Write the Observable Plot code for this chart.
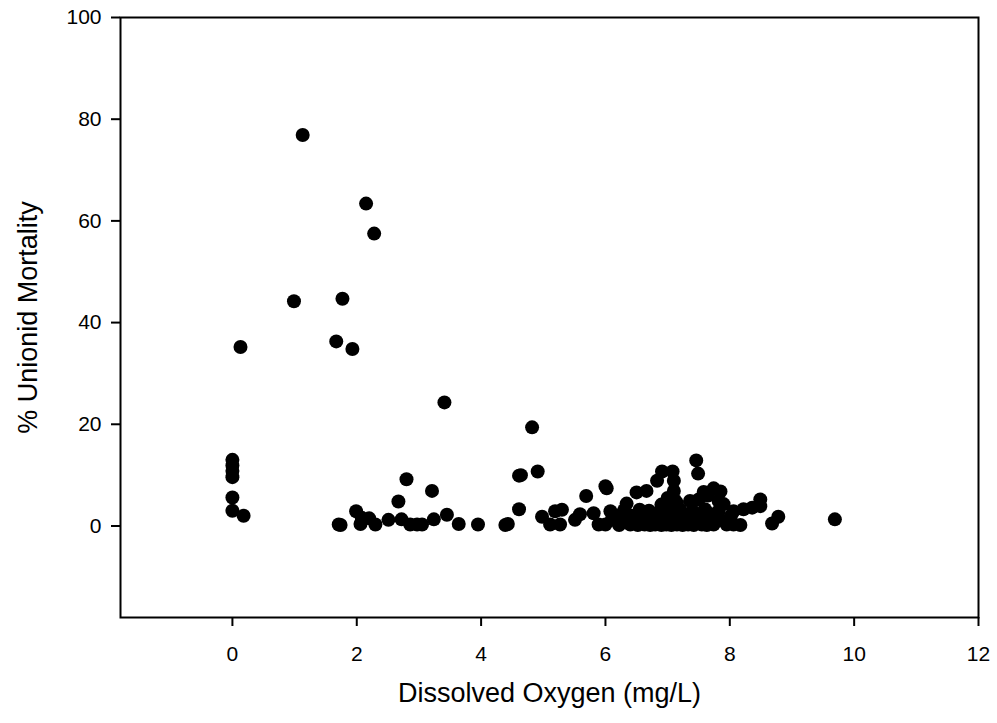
<!DOCTYPE html>
<html>
<head>
<meta charset="utf-8">
<script src="https://cdn.jsdelivr.net/npm/d3@7"></script>
<script src="https://cdn.jsdelivr.net/npm/@observablehq/plot@0.6"></script>
<style>
  html, body { margin: 0; padding: 0; background: #fff; }
  #chart svg { display: block; }
</style>
</head>
<body>
<div id="chart"></div>
<script>
// Dissolved oxygen (mg/L) readings
const dissolvedOxygen = [
  0, 0, 0, 0, 0, 0, 0.18, 0.13,
  0.99, 1.13, 1.67, 1.77, 1.93, 2.15, 2.28, 3.41,
  1.71, 1.74, 1.99, 2.06, 2.08, 2.20, 2.30, 2.51, 2.67, 2.80, 2.72, 2.86, 2.97, 3.05, 3.21, 3.24, 3.45, 3.64, 3.95, 4.39, 4.43,
  4.61, 4.64, 4.91, 4.82, 4.61, 4.98, 5.11, 5.19, 5.30, 5.27, 5.51, 5.59, 5.69, 5.81, 5.89, 6.00, 6.02, 6.08, 6.00, 6.10,
  6.34, 6.50, 6.66, 6.83, 6.91, 7.08, 7.10, 7.10, 7.12, 7.46, 7.49, 7.58, 7.74, 7.85, 7.36, 7.90, 7.82, 7.82, 8.06, 8.22, 8.36, 8.49, 8.49, 8.78, 8.68, 9.69, 8.06, 8.17, 7.95, 7.74,
  6.22, 6.40, 6.52, 6.63, 6.72, 6.80, 6.90, 6.98, 7.06, 7.15, 7.24, 7.33, 7.42, 7.55, 7.63,
  6.15, 6.30, 6.45, 6.58, 6.70, 6.85, 7.00, 7.12, 7.25, 7.38, 7.50, 7.62, 7.85, 8.00,
  6.25, 6.42, 6.60, 6.75, 6.95, 7.05, 7.20, 7.30, 7.45, 7.55, 7.70, 7.80, 8.02,
  6.30, 6.55, 6.70, 6.90, 7.05, 7.20, 7.40, 7.60,
  6.90, 7.00, 7.15, 7.50, 7.65, 6.20
];
// % unionid mortality matching each reading above
const mortality = [
  13.0, 11.9, 10.8, 9.6, 5.6, 3.0, 2.0, 35.2,
  44.2, 76.9, 36.3, 44.7, 34.8, 63.4, 57.5, 24.3,
  0.3, 0.2, 2.9, 0.4, 1.6, 1.5, 0.3, 1.2, 4.8, 9.2, 1.3, 0.3, 0.3, 0.3, 6.9, 1.3, 2.2, 0.4, 0.3, 0.2, 0.4,
  9.9, 10.0, 10.7, 19.4, 3.3, 1.8, 0.3, 2.9, 3.2, 0.3, 1.2, 2.3, 5.9, 2.5, 0.3, 7.8, 7.4, 2.9, 0.3, 1.2,
  4.4, 6.6, 6.9, 8.9, 10.7, 10.7, 8.9, 6.9, 5.0, 12.9, 10.3, 6.7, 7.4, 6.8, 4.9, 4.3, 4.9, 2.9, 2.9, 3.3, 3.6, 5.2, 3.9, 1.8, 0.5, 1.3, 0.3, 0.2, 0.3, 0.3,
  0.2, 0.3, 0.2, 0.3, 0.2, 0.3, 0.2, 0.3, 0.2, 0.3, 0.2, 0.3, 0.2, 0.3, 0.2,
  1.2, 1.0, 1.3, 1.1, 1.2, 1.0, 1.3, 1.1, 1.2, 1.0, 1.3, 1.1, 1.2, 1.0,
  2.2, 2.0, 2.3, 2.1, 2.2, 2.0, 2.3, 2.1, 2.2, 2.0, 2.3, 2.1, 2.0,
  3.1, 3.2, 3.0, 3.3, 3.1, 3.2, 3.0, 3.3,
  4.2, 5.5, 4.5, 5.2, 6.0, 2.0
];
const xTicks = [0, 2, 4, 6, 8, 10, 12];
const yTicks = [0, 20, 40, 60, 80, 100];
const xTitle = "Dissolved Oxygen (mg/L)";
const yTitle = "% Unionid Mortality";

const data = dissolvedOxygen.map((d, i) => ({x: d, y: mortality[i]}));

const chart = Plot.plot({
  width: 997,
  height: 723,
  marginLeft: 120,
  marginRight: 19,
  marginTop: 17,
  marginBottom: 106,
  style: {fontFamily: "'Liberation Sans', Arial, sans-serif", fontSize: "21px", color: "#000", background: "#fff"},
  x: {domain: [-1.8, 12]},
  y: {domain: [-18, 100]},
  marks: [
    Plot.frame({stroke: "#000", strokeWidth: 2}),
    Plot.axisX({ticks: xTicks, tickSize: 9, tickPadding: 20, tickFormat: d => String(d), label: null, fontSize: 21, strokeWidth: 2}),
    Plot.axisY({ticks: yTicks, tickSize: 9, tickPadding: 10, tickFormat: d => String(d), label: null, fontSize: 21, strokeWidth: 2}),
    Plot.dot(data, {x: "x", y: "y", r: 7, fill: "#000", stroke: "none"}),
    Plot.text([xTitle], {frameAnchor: "bottom", dy: 84, text: d => d, fontSize: 27, textAnchor: "middle", fill: "#000"}),
    Plot.text([yTitle], {frameAnchor: "left", dx: -92, rotate: -90, text: d => d, fontSize: 27, textAnchor: "middle", fill: "#000"})
  ]
});
document.getElementById("chart").appendChild(chart);
</script>
</body>
</html>
